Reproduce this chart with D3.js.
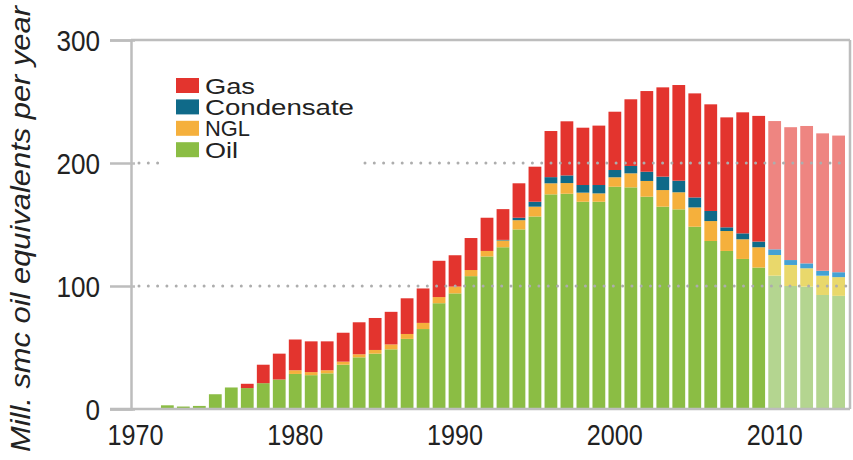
<!DOCTYPE html>
<html>
<head>
<meta charset="utf-8">
<script src="https://cdn.jsdelivr.net/npm/d3@7"></script>
<style>
  body { margin: 0; background: #fff; }
  svg { display: block; font-family: "Liberation Sans", Arial, sans-serif; }
</style>
</head>
<body>
<div id="chart"></div>
<script>
// years 1970 - 2014, values in mill. smc o.e.
const years = d3.range(1970, 2015);
const oil = [0, 0, 3, 2, 2.5, 12, 17.5, 17, 21, 24,
  28.5, 27.5, 29, 36, 42, 45, 48.5, 57, 65, 86,
  94, 108, 124, 131.5, 146, 156.5, 174.5, 175, 168.5, 168.5,
  180.7, 180.2, 172.6, 164.5, 162.3, 148.2, 136.6, 128.5, 122, 115,
  108.4, 100, 99.5, 92.7, 92];
const ngl = [0, 0, 0, 0, 0, 0, 0, 0, 0, 0,
  3, 2.5, 2.5, 2.5, 2.5, 3, 4, 4, 5, 5,
  5.5, 5, 4.5, 5.5, 7.5, 8, 9, 8.7, 7.4, 6.8,
  7.7, 11.4, 12.8, 13.5, 13.9, 15.7, 16.2, 16.2, 16, 16.5,
  16.8, 17.1, 14.9, 15.7, 15.2];
const condensate = [0, 0, 0, 0, 0, 0, 0, 0, 0, 0,
  0, 0, 0, 0, 0, 0, 0, 0, 0, 0,
  0, 0, 0, 0.5, 2, 4, 5, 6.2, 6.2, 6.8,
  5.9, 6, 7.5, 10.9, 9.4, 8.1, 8.2, 3, 4.8, 4.6,
  4.6, 4, 4, 4, 4];
const gas = [0, 0, 0, 0, 0, 0, 0, 3.5, 15, 21,
  25, 25, 23.5, 23.5, 26, 26, 26.5, 29, 28, 29.5,
  25.5, 26, 27, 25, 28, 28.5, 37.5, 44, 46.6, 48.3,
  47.4, 54.2, 65.6, 72.6, 77.8, 84.6, 86.7, 89.4, 98.4, 102.2,
  104.3, 108, 111.7, 111.7, 111.1];
const forecastFrom = 2010;

const seriesNames = ["Oil", "NGL", "Condensate", "Gas"];
const legendOrder = ["Gas", "Condensate", "NGL", "Oil"];
const yTicks = [0, 100, 200, 300];
const xTicks = [1970, 1980, 1990, 2000, 2010];

const colors = {Oil: "#8bbd44", NGL: "#f5b03c", Condensate: "#0f6a89", Gas: "#e3342e"};
const lightColors = {Oil: "#b4d590", NGL: "#e9d86b", Condensate: "#44a2d4", Gas: "#ee8581"};
const legendWidths = {Gas: 50, Condensate: 149, NGL: 45, Oil: 33};

const rows = years.map((yr, i) => ({year: yr, Oil: oil[i], NGL: ngl[i], Condensate: condensate[i], Gas: gas[i]}));

const width = 853, height = 460;
const plotL = 131, plotR = 850, plotT = 40, plotB = 409;

const svg = d3.select("#chart").append("svg")
  .attr("width", width).attr("height", height);

const x = d3.scaleBand().domain(years).range([129, 845]).paddingInner(0.2).paddingOuter(0);
const y = d3.scaleLinear().domain([0, 300]).range([plotB, plotT]);

const stack = d3.stack().keys(seriesNames);
const stacked = stack(rows);

// bars
const layers = svg.append("g").selectAll("g").data(stacked).enter().append("g");
layers.selectAll("rect").data(d => d.map(p => ({key: d.key, p: p})))
  .enter().append("rect")
  .attr("x", d => x(d.p.data.year))
  .attr("width", x.bandwidth())
  .attr("y", d => y(d.p[1]))
  .attr("height", d => Math.max(0, y(d.p[0]) - y(d.p[1])))
  .attr("fill", d => d.p.data.year >= forecastFrom ? lightColors[d.key] : colors[d.key]);

// dotted grid lines on top of bars
const grid = svg.append("g").attr("stroke", "#adadad").attr("stroke-width", 3)
  .attr("stroke-linecap", "round").attr("stroke-dasharray", "0 9.3");
grid.append("line").attr("x1", plotL + 8).attr("x2", plotR - 4).attr("y1", y(100)).attr("y2", y(100));
grid.append("line").attr("x1", plotL + 8).attr("x2", 163).attr("y1", y(200)).attr("y2", y(200));
grid.append("line").attr("x1", 365).attr("x2", plotR - 4).attr("y1", y(200)).attr("y2", y(200));

// frame
const frame = svg.append("g").attr("stroke", "#bdbdbd").attr("stroke-width", 2.5).attr("fill", "none");
frame.append("line").attr("x1", plotL).attr("x2", plotR).attr("y1", plotT).attr("y2", plotT);
frame.append("line").attr("x1", plotR).attr("x2", plotR).attr("y1", plotT).attr("y2", plotB);
frame.append("line").attr("x1", 110).attr("x2", plotR).attr("y1", plotB).attr("y2", plotB);

// y axis
const yAxis = svg.append("g").attr("transform", `translate(${plotL},0)`)
  .call(d3.axisLeft(y).tickValues(yTicks).tickSize(21).tickPadding(10));
yAxis.select(".domain").attr("stroke", "#bdbdbd").attr("stroke-width", 2.5);
yAxis.selectAll(".tick line").attr("stroke", "#bdbdbd").attr("stroke-width", 2.5).attr("x2", -21).attr("x1", 4);
yAxis.selectAll(".tick text")
  .attr("font-size", 29).attr("fill", "#222").attr("dy", "0.36em")
  .attr("font-family", "Liberation Sans, Arial, sans-serif")
  .attr("textLength", d => String(d).length * 14.5).attr("lengthAdjust", "spacingAndGlyphs");

// x axis
const xAxis = svg.append("g").attr("transform", `translate(0,${plotB})`)
  .call(d3.axisBottom(x).tickValues(xTicks).tickSize(0).tickPadding(15));
xAxis.select(".domain").remove();
xAxis.selectAll(".tick text")
  .attr("font-size", 29).attr("fill", "#222").attr("dy", "0.71em")
  .attr("font-family", "Liberation Sans, Arial, sans-serif")
  .attr("textLength", 56).attr("lengthAdjust", "spacingAndGlyphs");

// y title
svg.append("text")
  .attr("transform", "translate(30,229) rotate(-90)")
  .attr("text-anchor", "middle")
  .attr("font-size", 27).attr("font-style", "italic").attr("fill", "#222")
  .attr("textLength", 446).attr("lengthAdjust", "spacingAndGlyphs")
  .text("Mill. smc oil equivalents per year");

// legend
const legend = svg.append("g").attr("transform", "translate(176,78)");
const items = legend.selectAll("g").data(legendOrder).enter().append("g")
  .attr("transform", (d, i) => `translate(0,${i * 21.4})`);
items.append("rect").attr("width", 23).attr("height", 15).attr("fill", d => colors[d]);
items.append("text").attr("x", 29).attr("y", 15.5)
  .attr("font-size", 22).attr("fill", "#222")
  .attr("textLength", d => legendWidths[d]).attr("lengthAdjust", "spacingAndGlyphs")
  .text(d => d);
</script>
</body>
</html>
